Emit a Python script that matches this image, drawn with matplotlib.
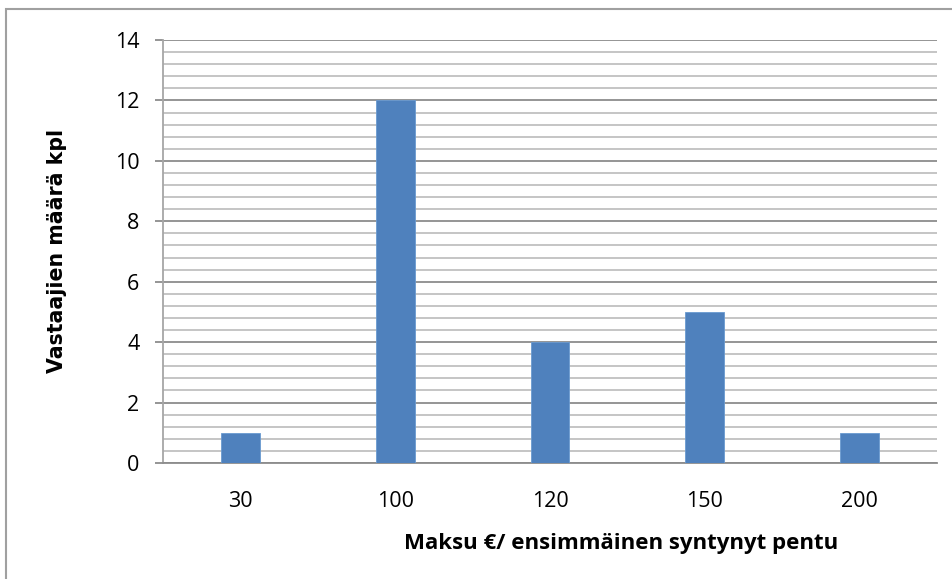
import matplotlib
matplotlib.use("Agg")
import matplotlib.pyplot as plt
from matplotlib.patches import Rectangle
import numpy as np

categories = ["30", "100", "120", "150", "200"]
counts = [1, 12, 4, 5, 1]
y_ticks = [0, 2, 4, 6, 8, 10, 12, 14]

fig = plt.figure(figsize=(9.53, 5.79), dpi=100)
ax = fig.add_axes([163/953, 1-463/579, (937-163)/953, (463-40)/579])

x = np.arange(len(categories))
ax.bar(x, counts, width=0.25, color="#4F81BD", edgecolor="#6A9AD0", linewidth=0.6, zorder=3)

ax.set_xlim(-0.5, len(categories)-0.5)
ax.set_ylim(0, 14)
ax.set_yticks(y_ticks)
ax.set_yticks(np.arange(0, 14.01, 0.4), minor=True)
ax.grid(which="major", axis="y", color="#8C8C8C", linewidth=1.3, zorder=0)
ax.grid(which="minor", axis="y", color="#C0C0C0", linewidth=1.3, zorder=0)
ax.set_xticks(x)
ax.set_xticklabels(categories)

for s in ["top", "right"]:
    ax.spines[s].set_visible(False)
ax.spines["left"].set_color("#A6A6A6")
ax.spines["left"].set_linewidth(1.3)
ax.spines["bottom"].set_color("#8C8C8C")
ax.spines["bottom"].set_linewidth(1.3)

ax.tick_params(axis="y", which="major", length=6, width=1.3, color="#8C8C8C", pad=11,
               labelsize=15.5)
ax.tick_params(axis="y", which="minor", length=0)
ax.tick_params(axis="x", length=0, pad=20, labelsize=15.5)
for lab in ax.get_xticklabels() + ax.get_yticklabels():
    lab.set_fontfamily("Open Sans")

fig.text(57/953, 1-251/579, "Vastaajien määrä kpl", rotation=90, ha="center", va="center",
         fontsize=14.8, fontweight="bold", family="DejaVu Sans")
fig.text(621/953, 1-543/579, "Maksu €/ ensimmäinen syntynyt pentu", ha="center", va="center",
         fontsize=16, fontweight="bold", family="Open Sans")

fig.patches.append(Rectangle((6/953, -0.1), 1.2, 1.1 - 9/579, transform=fig.transFigure,
                             fill=False, edgecolor="#A0A0A0", linewidth=1.5))

fig.savefig("out.png", dpi=100)
